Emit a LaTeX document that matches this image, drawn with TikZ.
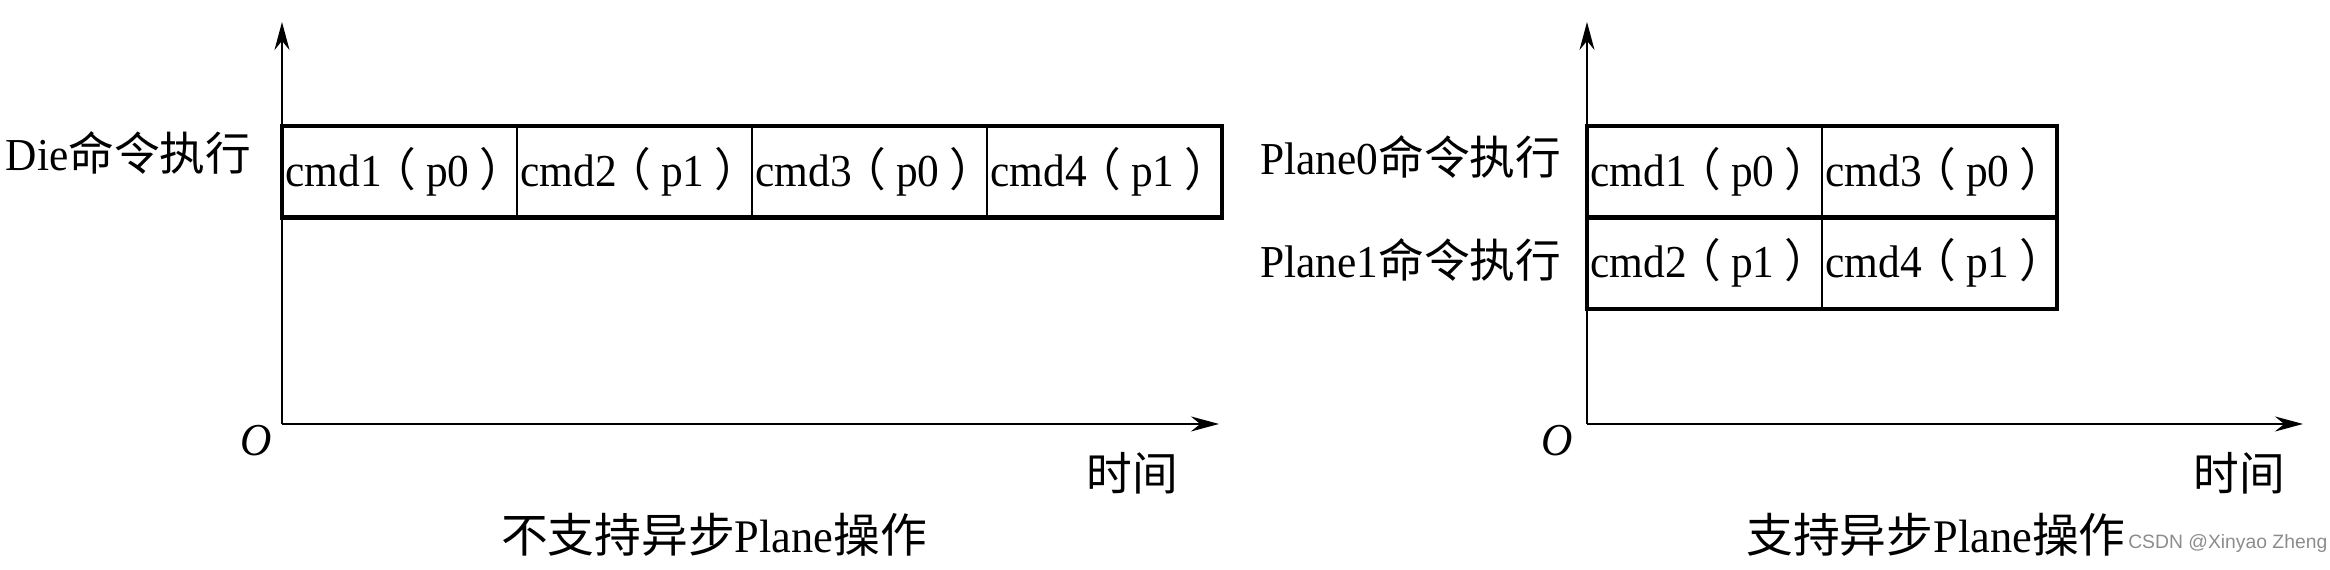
\documentclass[tikz,border=0pt]{standalone}
\usepackage{fontspec}
\setmainfont[FakeStretch=0.95]{Liberation Serif}
\newfontfamily\hanzi{Noto Sans CJK SC}
\newfontfamily\wmfont{Liberation Sans}
\usetikzlibrary{arrows.meta,positioning}
\newcommand\cmdlbl[2]{cmd#1\kern-.25em{\hanzi （}\kern.22em p#2\kern.22em{\hanzi ）}\kern-.25em}
\tikzset{
  axis/.style={line width=0.5pt,-{Stealth[length=2.8mm,width=1.5mm]}},
  cell/.style={draw,line width=0.7pt,minimum width=2.35cm,minimum height=0.915cm,
    inner sep=0pt,outer sep=0pt,font=\fontsize{13}{15}\selectfont},
  frame/.style={line width=1.2pt},
  rowlbl/.style={inner sep=0pt,font=\fontsize{13}{15}\selectfont},
  caption/.style={inner sep=0pt,font=\fontsize{13.3}{15}\selectfont}
}
\begin{document}
\begin{tikzpicture}
\useasboundingbox (0,0) rectangle (23.3,5.7);
% left: no async plane
\coordinate (o1) at (2.82,1.46);
\coordinate (y1) at (2.82,5.48);
\coordinate (x1) at (12.19,1.46);
\draw[axis] (o1) -- (y1);
\draw[axis] (o1) -- (x1);
\node[cell,anchor=north west] (d1) at (2.82,4.44) {\cmdlbl{1}{0}};
\node[cell,right=0pt of d1] (d2) {\cmdlbl{2}{1}};
\node[cell,right=0pt of d2] (d3) {\cmdlbl{3}{0}};
\node[cell,right=0pt of d3] (d4) {\cmdlbl{4}{1}};
\draw[frame] (d1.north west) rectangle (d4.south east);
\node[rowlbl,left=0.3cm of d1,yshift=1.9mm] (dielbl) {Die{\hanzi 命令执行}};
\node[rowlbl] (olbl1) at (2.56,1.29) {\textit{O}};
\node[rowlbl] (tlbl1) at (11.32,0.97) {\hanzi 时间};
\node[caption] (cap1) at (7.14,0.35) {{\hanzi 不支持异步}Plane{\hanzi 操作}};
% right: async plane
\coordinate (o2) at (15.87,1.46);
\coordinate (y2) at (15.87,5.48);
\coordinate (x2) at (23.03,1.46);
\draw[axis] (o2) -- (y2);
\draw[axis] (o2) -- (x2);
\node[cell,anchor=north west] (p1) at (15.87,4.44) {\cmdlbl{1}{0}};
\node[cell,right=0pt of p1] (p3) {\cmdlbl{3}{0}};
\node[cell,below=0pt of p1] (p2) {\cmdlbl{2}{1}};
\node[cell,right=0pt of p2] (p4) {\cmdlbl{4}{1}};
\draw[frame] (p1.north west) rectangle (p4.south east);
\draw[frame] (p2.north west) -- (p4.north east);
\node[rowlbl,left=0.25cm of p1,yshift=1.5mm] (pl0lbl) {Plane0{\hanzi 命令执行}};
\node[rowlbl,left=0.25cm of p2,yshift=0.3mm] (pl1lbl) {Plane1{\hanzi 命令执行}};
\node[rowlbl] (olbl2) at (15.57,1.29) {\textit{O}};
\node[rowlbl] (tlbl2) at (22.39,0.97) {\hanzi 时间};
\node[caption] (cap2) at (19.36,0.35) {{\hanzi 支持异步}Plane{\hanzi 操作}};
\node[inner sep=0pt,anchor=east,text=black!45,font=\wmfont\fontsize{5.5}{6}\selectfont] (wm) at (23.28,0.26) {CSDN @Xinyao Zheng};
\end{tikzpicture}
\end{document}
